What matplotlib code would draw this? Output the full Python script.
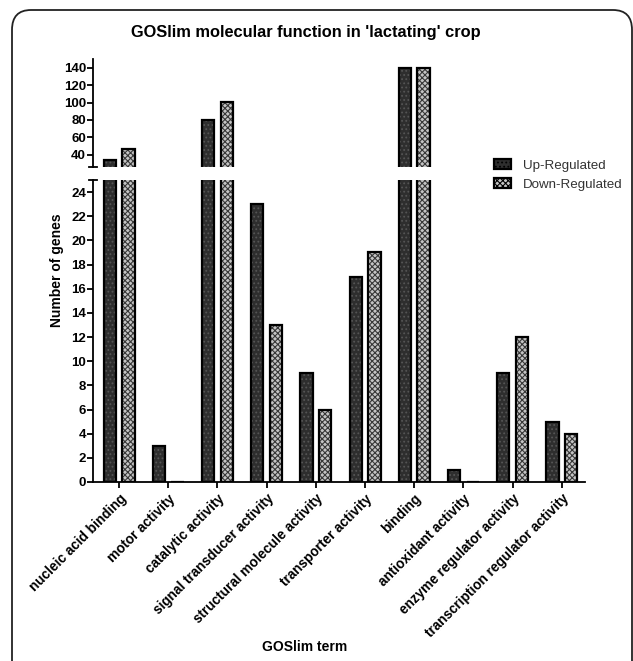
import matplotlib
matplotlib.use("Agg")
import matplotlib.pyplot as plt
from matplotlib.patches import FancyBboxPatch, Patch
import numpy as np

plt.rcParams['font.family'] = ['Liberation Sans', 'DejaVu Sans']
plt.rcParams['hatch.linewidth'] = 0.8

categories = ["nucleic acid binding", "motor activity", "catalytic activity",
              "signal transducer activity", "structural molecule activity",
              "transporter activity", "binding", "antioxidant activity",
              "enzyme regulator activity", "transcription regulator activity"]
up_regulated = [34, 3, 80, 23, 9, 17, 140, 1, 9, 5]
down_regulated = [47, 0, 101, 13, 6, 19, 140, 0, 12, 4]
series_names = ["Up-Regulated", "Down-Regulated"]
lower_ticks = [0, 2, 4, 6, 8, 10, 12, 14, 16, 18, 20, 22, 24]
upper_ticks = [40, 60, 80, 100, 120, 140]

W, H = 633, 661
fig = plt.figure(figsize=(W / 100, H / 100), dpi=100)

def fx(px):
    return px / W

def fy(py):
    return 1 - py / H

# rounded frame
frame = FancyBboxPatch((fx(12), fy(720)), fx(620), (720 - 10) / H,
                       boxstyle="round,pad=0,rounding_size=0.03",
                       transform=fig.transFigure, facecolor='none',
                       edgecolor='#222222', linewidth=1.3)
fig.patches.append(frame)

left, right = 93, 585
ax_lo = fig.add_axes([fx(left), fy(482), fx(right - left), (482 - 180) / H])
ax_hi = fig.add_axes([fx(left), fy(167), fx(right - left), (167 - 59) / H])

x = np.arange(len(categories))
bw = 0.25
off = 0.19

up_face = '#2e2e2e'
up_hatch = '#555555'
down_face = '#c4c4c4'
down_hatch = '#383838'

for ax in (ax_lo, ax_hi):
    ax.bar(x - off, up_regulated, bw, color=up_face, hatch='....',
           edgecolor=up_hatch, linewidth=0, zorder=2)
    ax.bar(x - off, up_regulated, bw, facecolor='none', edgecolor='black',
           linewidth=1.6, zorder=3)
    ax.bar(x + off, down_regulated, bw, color=down_face, hatch='xxxxxx',
           edgecolor=down_hatch, linewidth=0, zorder=2)
    ax.bar(x + off, down_regulated, bw, facecolor='none', edgecolor='black',
           linewidth=1.6, zorder=3)
    ax.set_xlim(-0.53, 9.47)
    for s in ('top', 'right'):
        ax.spines[s].set_visible(False)
    ax.spines['left'].set_linewidth(1.3)
    ax.spines['bottom'].set_linewidth(1.3)
    ax.tick_params(axis='y', direction='out', length=4, width=1.3, pad=1)

ax_lo.set_ylim(0, 25)
ax_lo.set_yticks(lower_ticks)
ax_lo.set_yticklabels([str(t) for t in lower_ticks], fontweight='bold', fontsize=9.5)
ax_lo.set_xticks(x)
ax_lo.set_xticklabels(categories, rotation=45, ha='right', rotation_mode='anchor',
                      fontweight='bold', fontsize=9.8)
ax_lo.tick_params(axis='x', direction='out', length=4, width=1.3, pad=3)

ax_hi.set_ylim(26, 150)
ax_hi.set_yticks(upper_ticks)
ax_hi.set_yticklabels([str(t) for t in upper_ticks], fontweight='bold', fontsize=9.5)
ax_hi.spines['bottom'].set_visible(False)
ax_hi.set_xticks([])

# break caps
cap = 4 / (right - left)
ax_hi.plot([-cap, cap], [0, 0], transform=ax_hi.transAxes, color='black',
           lw=1.3, clip_on=False)
ax_lo.plot([-cap, cap], [1, 1], transform=ax_lo.transAxes, color='black',
           lw=1.3, clip_on=False)

fig.text(fx(306), fy(33), "GOSlim molecular function in 'lactating' crop",
         ha='center', va='center', fontsize=11.8, fontweight='bold')
fig.text(fx(305), fy(647), "GOSlim term", ha='center', va='center',
         fontsize=10, fontweight='bold')
fig.text(fx(57), fy(270), "Number of genes", ha='center', va='center',
         rotation=90, fontsize=10, fontweight='bold')

handles = [Patch(facecolor=up_face, edgecolor='black', hatch='....', linewidth=1.6),
           Patch(facecolor=down_face, edgecolor='black', hatch='xxxxxx', linewidth=1.6)]
fig.legend(handles, series_names, loc='upper left',
           bbox_to_anchor=(fx(482), fy(147)), frameon=False, fontsize=9.6,
           handlelength=1.3, handleheight=0.75, handletextpad=0.85,
           labelspacing=0.5, labelcolor='#333333')

fig.savefig("out.png", dpi=100)
